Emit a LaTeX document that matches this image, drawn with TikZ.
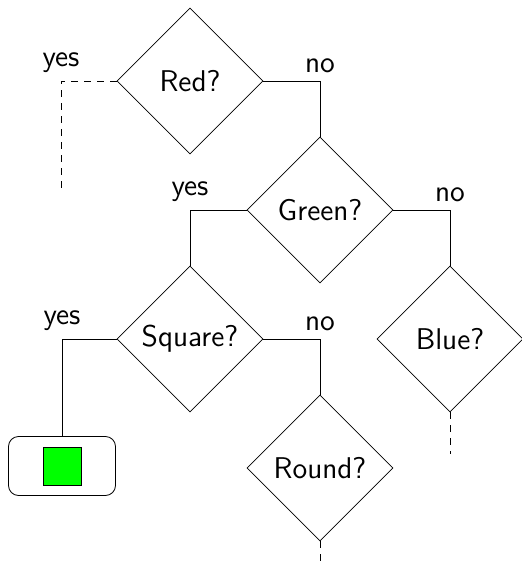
\documentclass[tikz,border=0pt]{standalone}
\usetikzlibrary{shapes.geometric}
\begin{document}
\begin{tikzpicture}[x=0.5pt,y=-0.5pt,
  every node/.style={font=\sffamily\fontsize{15}{18}\selectfont},
  dia/.style={draw,diamond,minimum width=73pt,minimum height=73pt,inner sep=0pt,aspect=1},
  leaf/.style={draw,rounded corners=5pt,minimum width=53.5pt,minimum height=29.5pt},
  lbl/.style={above,inner sep=2pt,yshift=2pt},
  ddash/.style={dash pattern=on 3.5pt off 3pt}]
\useasboundingbox (0,0) rectangle (522,566);
\node[dia] (red) at (190,81) {Red?};
\node[dia] (green) at (320,210) {Green?};
\node[dia] (square) at (190,339) {Square?};
\node[dia] (blue) at (450,339) {Blue?};
\node[dia] (round) at (320,468) {Round?};
\node[leaf] (box) at (62,466) {};
\node[draw,fill={rgb,255:red,0;green,255;blue,0},minimum size=19pt,inner sep=0pt] (sq) at (box.center) {};
% Red branches
\coordinate (ry) at (61,81);
\coordinate (rye) at (61,192);
\draw[ddash] (red.west) -- (ry) -- (rye);
\node[lbl] (lry) at (ry) {yes};
\coordinate (rn) at (320,81);
\draw (red.east) -- (rn) -- (green.north);
\node[lbl] (lrn) at (rn) {no};
% Green branches
\coordinate (gy) at (190,210);
\draw (green.west) -- (gy) -- (square.north);
\node[lbl] (lgy) at (gy) {yes};
\coordinate (gn) at (450,210);
\draw (green.east) -- (gn) -- (blue.north);
\node[lbl] (lgn) at (gn) {no};
% Square branches
\coordinate (sy) at (62,339);
\draw (square.west) -- (sy) -- (box.north);
\node[lbl] (lsy) at (sy) {yes};
\coordinate (sn) at (320,339);
\draw (square.east) -- (sn) -- (round.north);
\node[lbl] (lsn) at (sn) {no};
% loose ends
\coordinate (be) at (450,454);
\draw[ddash] (blue.south) -- (be);
\coordinate (re) at (320,566);
\draw[ddash] (round.south) -- (re);
\end{tikzpicture}
\end{document}
